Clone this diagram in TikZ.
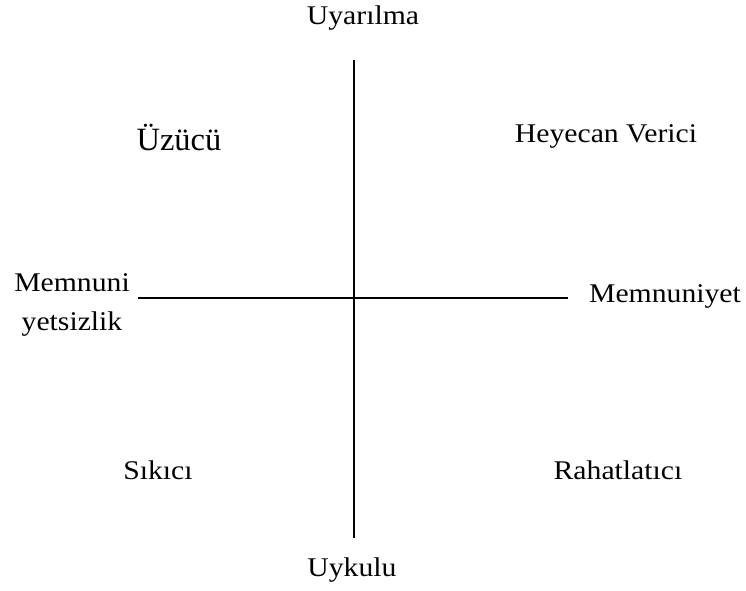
\documentclass[tikz,border=0pt]{standalone}
\usepackage{fontspec}
\setmainfont{Liberation Serif}
\newfontfamily\palfont[FakeStretch=1.1]{Liberation Serif}
\begin{document}
\begin{tikzpicture}[x=1pt,y=-1pt,
  lbl/.style={inner sep=0pt,font=\palfont\fontsize{27}{39}\selectfont},
  big/.style={inner sep=0pt,font=\fontsize{32.5}{38}\selectfont},
  axis/.style={line width=1.6pt}]
\useasboundingbox (0,0) rectangle (746,590);
\coordinate (vt) at (354,60);
\coordinate (vb) at (354,538);
\coordinate (hl) at (138,298);
\coordinate (hr) at (568,298);
\draw[axis] (vt) -- (vb);
\draw[axis] (hl) -- (hr);
\node[lbl] (up) at (363,18) {Uyarılma};
\node[big] (uz) at (179,137) {Üzücü};
\node[lbl] (hv) at (606,136) {Heyecan Verici};
\node[lbl,align=center] (mn) at (72,305) {Memnuni\\yetsizlik};
\node[lbl] (my) at (665,296) {Memnuniyet};
\node[lbl] (sk) at (158,470) {Sıkıcı};
\node[lbl] (rh) at (618,470) {Rahatlatıcı};
\node[lbl] (uk) at (352,570) {Uykulu};
\end{tikzpicture}
\end{document}
